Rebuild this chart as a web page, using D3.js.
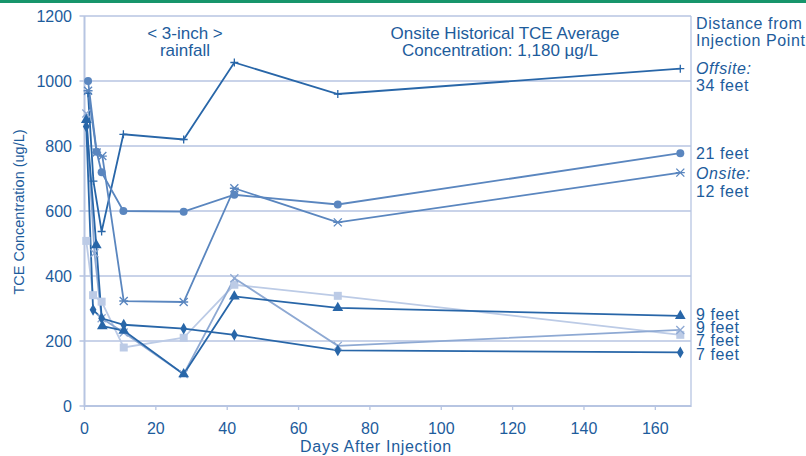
<!DOCTYPE html>
<html>
<head>
<meta charset="utf-8">
<script src="https://cdn.jsdelivr.net/npm/d3@7"></script>
<style>
  body { margin: 0; background: #fff; }
  svg text { font-family: "Liberation Sans", Arial, sans-serif; fill: #1d5c9c; }
</style>
</head>
<body>
<svg id="chart" width="806" height="456"></svg>
<script>
// data: [day, TCE ug/L] per well
var offsite34 = [[1, 962], [2.5, 692], [4.8, 537], [10.9, 836], [27.8, 820], [42, 1057], [71, 960], [167, 1038]]
var well21 = [[1, 1000], [3.4, 782], [4.8, 719], [10.9, 600], [27.8, 598], [42, 650], [71, 620], [167, 778]]
var onsite12 = [[1, 970], [3.4, 780], [5, 769], [11, 323], [27.8, 320], [42, 670], [71, 565], [167, 718]]
var well9a = [[0.5, 880], [3.3, 495], [5, 246], [11, 232], [27.8, 98], [42, 337], [71, 302], [167, 277]]
var well9b = [[0.5, 900], [2.8, 470], [4.8, 270], [11, 226], [27.8, 98], [42, 393], [71, 185], [167, 234]]
var well7a = [[0.5, 508], [2.4, 341], [4.8, 321], [11, 180], [27.8, 210], [42, 373], [71, 339], [167, 219]]
var well7b = [[0.5, 860], [2.4, 296], [4.8, 270], [11, 250], [27.8, 238], [42, 219], [71, 171], [167, 165]]

var xTicks = [0, 20, 40, 60, 80, 100, 120, 140, 160]
var yTicks = [0, 200, 400, 600, 800, 1000, 1200]

var dark = '#2866a8', mid = '#5a86bf', light = '#8ea9d3', pale = '#bccbe6'

var series = [
	{ data: offsite34, color: dark, marker: 'plus' },
	{ data: well21, color: mid, marker: 'circle' },
	{ data: onsite12, color: mid, marker: 'star' },
	{ data: well7a, color: pale, marker: 'square' },
	{ data: well9b, color: light, marker: 'x' },
	{ data: well9a, color: dark, marker: 'triangle' },
	{ data: well7b, color: dark, marker: 'diamond' }
]

function drawChart() {

	var svg = d3.select('#chart')
		, mLeft = 84.5, mRight = 691, mTop = 16, mBottom = 406
		, grid = '#b7c5e2'

	var x = d3.scaleLinear().domain([0, 170]).range([mLeft, mRight])
	var y = d3.scaleLinear().domain([0, 1200]).range([mBottom, mTop])

	// green rule across the top
	svg.append('rect').attr('x', 0).attr('y', 0).attr('width', 806).attr('height', 3).attr('fill', '#17956b')

	// horizontal grid
	svg.append('g').selectAll('line').data(yTicks).enter().append('line')
		.attr('x1', mLeft - 5).attr('x2', mRight)
		.attr('y1', function(d) { return y(d) }).attr('y2', function(d) { return y(d) })
		.attr('stroke', grid).attr('stroke-width', 1.3)

	// frame
	svg.append('line').attr('x1', mLeft).attr('x2', mLeft).attr('y1', mTop).attr('y2', mBottom + 1)
		.attr('stroke', grid).attr('stroke-width', 2)
	svg.append('line').attr('x1', mRight).attr('x2', mRight).attr('y1', mTop).attr('y2', mBottom + 1)
		.attr('stroke', grid).attr('stroke-width', 1.3)
	svg.append('line').attr('x1', mLeft).attr('x2', mRight).attr('y1', mBottom).attr('y2', mBottom)
		.attr('stroke', grid).attr('stroke-width', 2)

	// x ticks
	svg.append('g').selectAll('line').data(xTicks).enter().append('line')
		.attr('x1', function(d) { return x(d) }).attr('x2', function(d) { return x(d) })
		.attr('y1', mBottom).attr('y2', mBottom + 4)
		.attr('stroke', grid).attr('stroke-width', 1.3)

	svg.append('g').selectAll('text').data(xTicks).enter().append('text')
		.attr('x', function(d) { return x(d) }).attr('y', 434)
		.attr('text-anchor', 'middle').attr('font-size', 16)
		.text(function(d) { return d })

	svg.append('g').selectAll('text').data(yTicks).enter().append('text')
		.attr('x', 72).attr('y', function(d) { return y(d) + 6 })
		.attr('text-anchor', 'end').attr('font-size', 16)
		.text(function(d) { return d })

	svg.append('text').attr('x', 376).attr('y', 452).attr('text-anchor', 'middle')
		.attr('font-size', 16).attr('letter-spacing', 0.7).text('Days After Injection')

	svg.append('text').attr('transform', 'translate(24,212) rotate(-90)').attr('text-anchor', 'middle')
		.attr('font-size', 14.5).text('TCE Concentration (ug/L)')

	// annotations
	svg.append('text').attr('x', 185).attr('y', 39).attr('text-anchor', 'middle').attr('font-size', 17).text('< 3-inch >')
	svg.append('text').attr('x', 185).attr('y', 56).attr('text-anchor', 'middle').attr('font-size', 17).text('rainfall')
	svg.append('text').attr('x', 505).attr('y', 39).attr('text-anchor', 'middle').attr('font-size', 17).text('Onsite Historical TCE Average')
	svg.append('text').attr('x', 500).attr('y', 56).attr('text-anchor', 'middle').attr('font-size', 17).text('Concentration: 1,180 \u00b5g/L')

	// lines
	var line = d3.line().x(function(d) { return x(d[0]) }).y(function(d) { return y(d[1]) })

	series.forEach(function(s) {
		svg.append('path').datum(s.data)
			.attr('d', line).attr('fill', 'none')
			.attr('stroke', s.color).attr('stroke-width', 1.8)
	})

	// markers
	function markerPath(type) {
		switch (type) {
			case 'plus': return 'M-4,0H4M0,-4V4'
			case 'x': return 'M-4,-4L4,4M-4,4L4,-4'
			case 'star': return 'M-4,-4L4,4M-4,4L4,-4M-4.5,0H4.5'
			case 'circle': return d3.symbol(d3.symbolCircle, 50)()
			case 'square': return d3.symbol(d3.symbolSquare, 64)()
			case 'triangle': return d3.symbol(d3.symbolTriangle, 50)()
			case 'diamond': return d3.symbol(d3.symbolDiamond, 40)()
		}
	}

	series.forEach(function(s) {
		var stroked = s.marker === 'plus' || s.marker === 'x' || s.marker === 'star'
		svg.append('g').selectAll('path').data(s.data).enter().append('path')
			.attr('transform', function(d) { return 'translate(' + x(d[0]) + ',' + y(d[1]) + ')' })
			.attr('d', markerPath(s.marker))
			.attr('fill', stroked ? 'none' : s.color)
			.attr('stroke', s.color).attr('stroke-width', stroked ? 1.3 : 0)
	})

	// right-hand legend
	var legendLines = [
		{ t: 'Distance from', y: 29 },
		{ t: 'Injection Point', y: 46 },
		{ t: 'Offsite:', y: 74, italic: true },
		{ t: '34 feet', y: 91 },
		{ t: '21 feet', y: 159 },
		{ t: 'Onsite:', y: 179, italic: true },
		{ t: '12 feet', y: 197 },
		{ t: '9 feet', y: 319.5 },
		{ t: '9 feet', y: 333 },
		{ t: '7 feet', y: 345.5 },
		{ t: '7 feet', y: 359.5 }
	]
	svg.append('g').selectAll('text').data(legendLines).enter().append('text')
		.attr('x', 696).attr('y', function(d) { return d.y })
		.attr('font-size', 16).attr('letter-spacing', 0.6)
		.attr('font-style', function(d) { return d.italic ? 'italic' : 'normal' })
		.text(function(d) { return d.t })
}

drawChart()
</script>
</body>
</html>
